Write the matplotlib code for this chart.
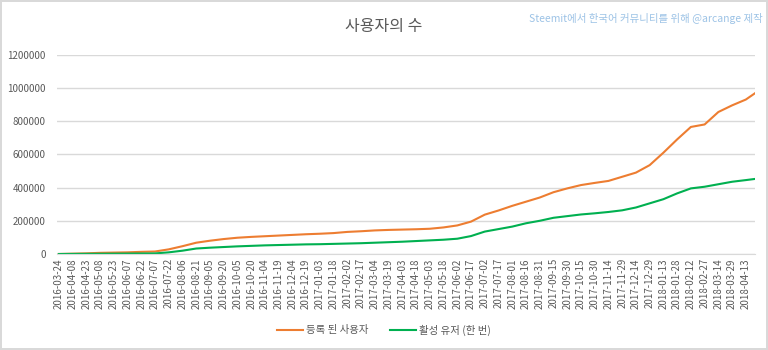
import pandas as pd
import numpy as np
from matplotlib import pyplot as plt

plt.rcParams['font.family'] = ['Noto Sans CJK KR', 'DejaVu Sans']

# dates shown on the x axis (every 15 days) + last data day
tick_dates = pd.date_range("2016-03-24", "2018-04-13", freq="15D")
last_date = pd.Timestamp("2018-04-23")
dates = list(tick_dates) + [last_date]

# registered users
registered = [0, 2000, 4000, 7000, 8500, 10000, 13000, 15000, 28000, 47000,
              68000, 80000, 90000, 98000, 103000, 107000, 111000, 115000, 119000, 122000,
              126000, 133000, 137000, 142000, 145000, 147000, 149000, 152000, 160000, 172000,
              195000, 237000, 262000, 290000, 315000, 340000, 372000, 395000, 415000, 428000,
              440000, 465000, 490000, 535000, 610000, 690000, 765000, 780000, 855000, 895000,
              930000, 968000]

# active users (at least once)
active = [0, 500, 1000, 1500, 2000, 2500, 3000, 3500, 10000, 20000,
          33000, 38000, 42000, 46000, 49000, 52000, 54000, 56000, 58000, 59000,
          61000, 63000, 65000, 68000, 71000, 74000, 78000, 82000, 86000, 92000,
          108000, 135000, 150000, 165000, 185000, 200000, 218000, 228000, 238000, 245000,
          253000, 263000, 280000, 305000, 330000, 365000, 395000, 405000, 420000, 435000,
          445000, 452000]

y_ticks = [0, 200000, 400000, 600000, 800000, 1000000, 1200000]

start = tick_dates[0]
x = [(d - start).days for d in dates]
x_ticks = [(d - start).days for d in tick_dates]
x_labels = [d.strftime("%Y-%m-%d") for d in tick_dates]

fig = plt.figure(figsize=(7.68, 3.5), dpi=100)
fig.patch.set_edgecolor('#d9d9d9')
fig.patch.set_linewidth(1.5)
ax = fig.add_axes([57 / 768, 96 / 350, 698 / 768, 199.3 / 350])

ax.plot(x, registered, color='#ED7D31', linewidth=1.5, label='등록 된 사용자')
ax.plot(x, active, color='#00B050', linewidth=1.5, label='활성 유저 (한 번)')

ax.set_xlim(-2, x[-1])
ax.set_ylim(0, 1200000)
ax.set_yticks(y_ticks)
ax.set_yticklabels([str(v) for v in y_ticks])
ax.set_xticks(x_ticks)
ax.set_xticklabels(x_labels, rotation=90)
ax.tick_params(axis='both', length=0, labelsize=7, colors='#595959')
ax.tick_params(axis='x', pad=3)
ax.tick_params(axis='y', pad=8)

ax.grid(True, axis='y', color='#d9d9d9', linewidth=1)
ax.set_axisbelow(True)
for s in ['top', 'right', 'left']:
    ax.spines[s].set_visible(False)
ax.spines['bottom'].set_color('#d9d9d9')

fig.text(0.5, 1 - 27 / 350, '사용자의 수', ha='center', va='center',
         fontsize=11.5, color='#595959')
fig.text(763 / 768, 1 - 18 / 350, 'Steemit에서 한국어 커뮤니티를 위해 @arcange 제작',
         ha='right', va='center', fontsize=7.5, color='#9dc3e6')

fig.legend(loc='center', bbox_to_anchor=(0.5, 1 - 330 / 350), ncol=2, frameon=False,
           fontsize=7.5, labelcolor='#595959', handlelength=2.5, columnspacing=2.0,
           handletextpad=0.3)

fig.savefig("out.png", dpi=100)
